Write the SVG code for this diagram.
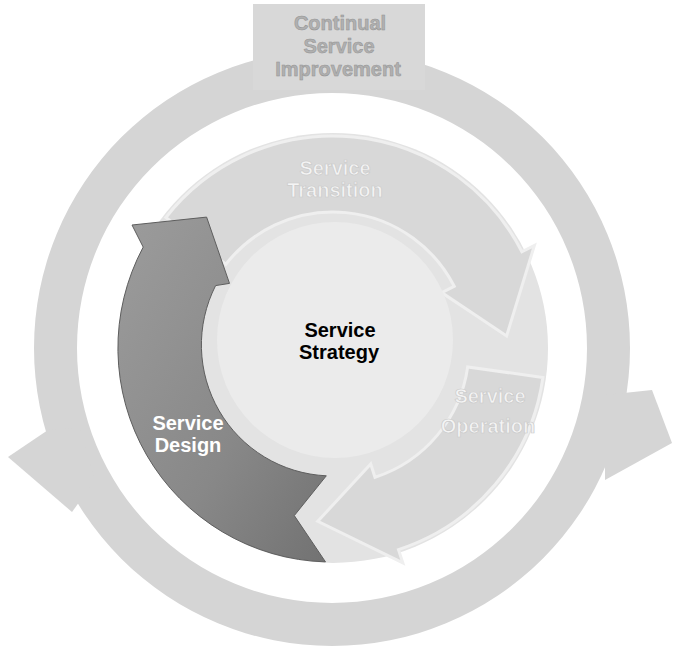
<svg xmlns="http://www.w3.org/2000/svg" width="683" height="648" viewBox="0 0 683 648">
<defs>
<style>
.lbl{font-family:"Liberation Sans",Arial,sans-serif;font-weight:bold;font-size:20px;text-anchor:middle}
.faint{fill:#f4f4f4;stroke:#cacaca;stroke-width:0.7}
.ring{fill:#d5d5d5}
.band{fill:#d8d8d8;stroke:#efefef;stroke-width:3}
</style>
<linearGradient id="dg" x1="0" y1="0" x2="1" y2="1">
<stop offset="0" stop-color="#9c9c9c"/>
<stop offset="0.6" stop-color="#888888"/>
<stop offset="1" stop-color="#727272"/>
</linearGradient>
</defs>
<rect width="683" height="648" fill="#ffffff"/>
<g id="csi-ring">
<path class="ring" fill-rule="evenodd" d="M34,348 a298,298 0 1,0 596,0 a298,298 0 1,0 -596,0 Z M77,348 a255,255 0 1,0 510,0 a255,255 0 1,0 -510,0 Z"/>
<polygon class="ring" points="48,430 8,457 72,512 95,480 80,428"/>
<polygon class="ring" points="605,395 652,390 672,443 605,480"/>
</g>
<g id="inner-disc">
<circle cx="333" cy="348" r="215" fill="#e3e3e3"/>
</g>
<g id="service-transition">
<path class="band" d="M165.9,217.5 A212,212 0 0,1 521.9,251.8 L534.4,245.4 L506.6,335.9 L441.7,292.6 L454.2,286.3 A136,136 0 0,0 225.8,264.3 Z"/>
<text class="lbl faint" x="335" y="175">Service</text>
<text class="lbl faint" x="335" y="197">Transition</text>
</g>
<g id="service-operation">
<path class="band" d="M542.9,377.5 A212,212 0 0,1 398.5,549.6 L402.8,562.9 L317.8,521.3 L370.7,464 L375,477.3 A136,136 0 0,0 467.7,366.9 Z"/>
<text class="lbl faint" x="490" y="403">Service</text>
<text class="lbl faint" x="488" y="433">Operation</text>
</g>
<g id="service-strategy">
<circle cx="335" cy="340" r="118" fill="#ebebeb"/>
<text class="lbl" x="340" y="337" fill="#000000">Service</text>
<text class="lbl" x="339" y="359" fill="#000000">Strategy</text>
</g>
<g id="service-design">
<path d="M326.3,475.8 L294.3,515.6 L325.5,561.9 A214,214 0 0,1 143.2,247.1 L132,225 L206.6,217.1 L229.5,283.4 L215.6,285.6 A131,131 0 0,0 326.3,475.8 Z" fill="url(#dg)" stroke="#5e5e5e" stroke-width="1"/>
<text class="lbl" x="188" y="430" fill="#ffffff">Service</text>
<text class="lbl" x="188" y="452" fill="#ffffff">Design</text>
</g>
<g id="continual-service-improvement">
<rect x="253" y="4" width="172" height="86" fill="#d8d8d8"/>
<text class="lbl" x="340" y="30" fill="#b0b0b0" stroke="#939393" stroke-width="0.5">Continual</text>
<text class="lbl" x="339" y="53" fill="#b0b0b0" stroke="#939393" stroke-width="0.5">Service</text>
<text class="lbl" x="338" y="76" fill="#b0b0b0" stroke="#939393" stroke-width="0.5">Improvement</text>
</g>
<g id="connectors"></g>
</svg>
